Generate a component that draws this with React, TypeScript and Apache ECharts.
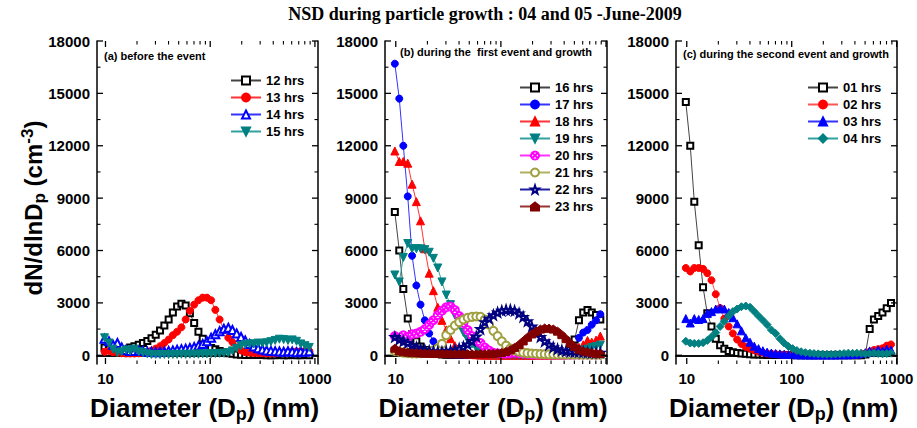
import React, { useEffect, useRef } from 'react';
import * as echarts from 'echarts';

// particle diameter bins (nm)
const diameters = [9.8, 10.8, 11.8, 13.0, 14.3, 15.7, 17.2, 18.9, 20.8, 22.8,
  25.1, 27.5, 30.2, 33.2, 36.5, 40.1, 44.0, 48.3, 53.1, 58.3,
  64.0, 70.3, 77.2, 84.8, 93.1, 102, 112, 123, 135, 149,
  163, 179, 197, 216, 238, 261, 287, 315, 346, 380,
  417, 458, 503, 553, 607, 667, 732, 804, 883];

// (a) before the event
const h12 = [450, 380, 300, 250, 280, 330, 450, 520, 600, 700,
  820, 980, 1180, 1420, 1700, 2050, 2450, 2800, 2950, 2850,
  2400, 1850, 1350, 950, 650, 420, 350, 250, 180, 120,
  80, 50, 30, 20, 20, 10, 10, 10, 0, 0,
  0, 10, 0, 0, 10, 0, 0, 10, 0];
const h13 = [200, 250, 180, 150, 120, 100, 100, 100, 110, 130,
  180, 260, 380, 520, 700, 900, 1150, 1350, 1600, 2050,
  2550, 2900, 3150, 3300, 3300, 3150, 2600, 2050, 1450, 1000,
  750, 450, 280, 180, 150, 130, 120, 120, 110, 100,
  110, 130, 150, 180, 200, 220, 230, 240, 250];
const h14 = [950, 800, 600, 700, 450, 300, 250, 250, 280, 250,
  200, 200, 180, 200, 220, 250, 280, 320, 350, 380,
  420, 470, 550, 650, 800, 1000, 1200, 1380, 1520, 1580,
  1450, 1250, 1050, 850, 650, 500, 400, 330, 280, 250,
  230, 220, 200, 230, 210, 180, 220, 200, 230];
const h15 = [1000, 700, 350, 150, 200, 300, 250, 350, 200, 150,
  80, 50, 50, 40, 50, 40, 50, 50, 60, 50,
  60, 70, 60, 80, 80, 90, 100, 110, 120, 150,
  250, 400, 550, 620, 650, 650, 700, 680, 720, 780,
  850, 920, 900, 850, 880, 800, 650, 550, 450];

// (b) during the first event and growth
const h16 = [8200, 6000, 3800, 2100, 1200, 800, 500, 300, 200, 120,
  80, 50, 30, 30, 20, 20, 10, 10, 10, 10,
  0, 0, 0, 0, 0, 0, 0, 0, 0, 0,
  0, 0, 0, 10, 10, 10, 20, 20, 30, 50,
  100, 300, 900, 2000, 2450, 2600, 2450, 2300, 2050];
const h17 = [16700, 14700, 12000, 9100, 5700, 4000, 2900, 2000, 1250, 800,
  400, 180, 80, 50, 30, 20, 20, 10, 10, 10,
  0, 0, 0, 0, 0, 0, 0, 0, 0, 0,
  0, 0, 0, 0, 0, 10, 10, 20, 20, 30,
  50, 100, 300, 1000, 1300, 1450, 1750, 2000, 2350];
const h18 = [11700, 11100, 11100, 11000, 9800, 8800, 7700, 6100, 4700, 3700,
  2750, 2000, 1450, 950, 550, 300, 150, 80, 50, 30,
  20, 20, 10, 10, 10, 10, 10, 10, 10, 10,
  10, 10, 10, 10, 10, 10, 10, 10, 20, 20,
  50, 100, 200, 450, 600, 850, 750, 870, 1100];
const h19 = [4600, 4200, 5600, 6400, 6100, 6100, 6100, 6050, 5900, 5550,
  5000, 4200, 3450, 2900, 2300, 1750, 1300, 900, 650, 400,
  200, 100, 60, 40, 30, 20, 20, 10, 10, 10,
  10, 10, 10, 10, 10, 10, 10, 10, 20, 20,
  30, 50, 100, 200, 300, 350, 450, 500, 580];
const h20 = [1100, 1000, 1150, 1050, 1200, 1250, 1350, 1500, 1750, 2000,
  2300, 2550, 2750, 2800, 2600, 2250, 1850, 1450, 1100, 800,
  700, 450, 280, 150, 120, 100, 100, 120, 150, 120,
  100, 80, 60, 50, 50, 40, 40, 30, 30, 30,
  30, 30, 40, 40, 50, 40, 50, 40, 50];
const h21 = [250, 200, 150, 120, 100, 100, 120, 150, 200, 280,
  400, 650, 1150, 1450, 1700, 1900, 2050, 2150, 2200, 2220,
  2200, 2050, 1750, 1400, 1100, 800, 550, 380, 280, 200,
  150, 120, 100, 90, 70, 60, 50, 50, 40, 40,
  40, 40, 40, 30, 30, 30, 30, 30, 30];
const h22 = [1050, 900, 800, 700, 550, 450, 350, 300, 250, 220,
  200, 200, 220, 250, 300, 380, 480, 620, 820, 1080,
  1500, 1900, 2100, 2300, 2450, 2550, 2600, 2600, 2550, 2400,
  2200, 1950, 1650, 1350, 1050, 800, 600, 450, 350, 280,
  250, 220, 200, 200, 180, 170, 150, 150, 150];
const h23 = [400, 250, 200, 180, 150, 150, 130, 120, 110, 100,
  100, 100, 90, 90, 80, 80, 80, 80, 80, 80,
  90, 90, 100, 110, 130, 160, 220, 320, 450, 620,
  820, 1030, 1220, 1380, 1500, 1560, 1550, 1500, 1380, 1180,
  950, 700, 500, 350, 250, 200, 150, 120, 100];

// (c) during the second event and growth
const h01 = [14500, 12000, 8800, 6300, 3900, 2400, 1650, 950, 580, 380,
  250, 180, 130, 100, 80, 60, 50, 40, 30, 20,
  20, 20, 10, 10, 10, 10, 0, 0, 0, 0,
  0, 0, 0, 0, 0, 0, 0, 0, 0, 0,
  0, 0, 50, 1500, 2050, 2250, 2450, 2700, 3000];
const h02 = [5000, 4800, 5000, 5000, 4950, 4700, 4300, 3500, 2700, 2100,
  1650, 1250, 900, 650, 480, 380, 280, 200, 150, 100,
  80, 60, 40, 30, 30, 20, 20, 20, 20, 10,
  10, 10, 10, 10, 10, 10, 10, 10, 20, 20,
  30, 50, 100, 200, 300, 350, 400, 550, 620];
const h03 = [2100, 1850, 2100, 2050, 2100, 2400, 2500, 2650, 2700, 2650,
  2450, 2150, 1800, 1400, 1000, 750, 520, 380, 260, 180,
  130, 100, 80, 60, 50, 40, 30, 30, 20, 20,
  20, 20, 20, 20, 20, 20, 30, 30, 30, 40,
  60, 100, 150, 250, 200, 300, 250, 350, 300];
const h04 = [800, 700, 680, 680, 720, 850, 1050, 1300, 1650, 1950,
  2250, 2500, 2650, 2780, 2820, 2750, 2500, 2250, 2000, 1750,
  1450, 1250, 950, 700, 500, 380, 270, 200, 150, 120,
  100, 80, 70, 60, 60, 70, 80, 100, 120, 110,
  120, 100, 80, 100, 120, 100, 80, 100, 120];

const yTickLabels = [0, 3000, 6000, 9000, 12000, 15000, 18000];
const yMinorTicks = [1500, 4500, 7500, 10500, 13500, 16500];
const xTickLabels = [10, 100, 1000];
const xMinorTicks = [20, 30, 40, 50, 60, 70, 80, 90, 200, 300, 400, 500, 600, 700, 800, 900];

const FONT = 'Liberation Sans, Arial, Helvetica, sans-serif';
const MAJOR = 6;
const MINOR = 3.5;

type S = { name: string; values: number[]; color: string; line: string; symbol: string; size: number };

const panels: {
  left: number; width: number; xMin: number; xMax: number; label: string; labelX: number; labelY: number;
  legendLeft: number; legendTop: number; series: S[];
}[] = [
  {
    left: 97, width: 221, xMin: 8.3, xMax: 1070, label: '(a) before the event', labelX: 104, labelY: 57,
    legendLeft: 230, legendTop: 74,
    series: [
      { name: '12 hrs', values: h12, color: '#000000', line: '#444444', symbol: 'emptyRect', size: 6 },
      { name: '13 hrs', values: h13, color: '#ff0000', line: '#ff3333', symbol: 'circle', size: 7 },
      { name: '14 hrs', values: h14, color: '#0000ff', line: '#3333ff', symbol: 'emptyTriangle', size: 8 },
      { name: '15 hrs', values: h15, color: '#008080', line: '#33a0a0', symbol: 'path://M0,0L10,0L5,9Z', size: 8 },
    ],
  },
  {
    left: 385, width: 222, xMin: 7.9, xMax: 1022, label: '(b) during the  first event and growth', labelX: 400, labelY: 53,
    legendLeft: 519, legendTop: 81,
    series: [
      { name: '16 hrs', values: h16, color: '#000000', line: '#444444', symbol: 'emptyRect', size: 6 },
      { name: '17 hrs', values: h17, color: '#0000ff', line: '#3333ff', symbol: 'circle', size: 7 },
      { name: '18 hrs', values: h18, color: '#ff0000', line: '#ff3333', symbol: 'triangle', size: 8 },
      { name: '19 hrs', values: h19, color: '#008080', line: '#33a0a0', symbol: 'path://M0,0L10,0L5,9Z', size: 8 },
      { name: '20 hrs', values: h20, color: '#ff00ff', line: '#ff33ff', symbol: 'emptypath://M5,0A5,5,0,1,1,4.99,0ZM1.5,1.5L8.5,8.5M8.5,1.5L1.5,8.5', size: 8 },
      { name: '21 hrs', values: h21, color: '#a0a040', line: '#b0b060', symbol: 'emptyCircle', size: 8 },
      { name: '22 hrs', values: h22, color: '#000080', line: '#2020a0', symbol: 'emptypath://M5,0L6.2,3.6L10,3.6L7,5.9L8.1,9.5L5,7.3L1.9,9.5L3,5.9L0,3.6L3.8,3.6Z', size: 8 },
      { name: '23 hrs', values: h23, color: '#800000', line: '#993333', symbol: 'path://M5,0L10,4L10,10L0,10L0,4Z', size: 8 },
    ],
  },
  {
    left: 676, width: 221, xMin: 7.9, xMax: 1007, label: '(c) during the second event and growth', labelX: 683, labelY: 55,
    legendLeft: 807, legendTop: 81,
    series: [
      { name: '01 hrs', values: h01, color: '#000000', line: '#444444', symbol: 'emptyRect', size: 6 },
      { name: '02 hrs', values: h02, color: '#ff0000', line: '#ff5555', symbol: 'circle', size: 7 },
      { name: '03 hrs', values: h03, color: '#0000ff', line: '#3333ff', symbol: 'triangle', size: 8 },
      { name: '04 hrs', values: h04, color: '#008080', line: '#33a0a0', symbol: 'diamond', size: 8 },
    ],
  },
];

const GRID_TOP = 41;
const GRID_HEIGHT = 323;
const plain = (v: number) => String(v);

// tick marks drawn inside the frame on both opposite sides, positioned through the axis scales
function xTickRender(params: any, api: any) {
  const cs = params.coordSys;
  const x = api.coord([api.value(0), api.value(1)])[0];
  const len = api.value(2);
  const style = { stroke: '#000', lineWidth: len > 4 ? 1.3 : 1.1 };
  return {
    type: 'group',
    children: [
      { type: 'line', shape: { x1: x, y1: cs.y + cs.height, x2: x, y2: cs.y + cs.height - len }, style },
      { type: 'line', shape: { x1: x, y1: cs.y, x2: x, y2: cs.y + len }, style },
    ],
  };
}
function yTickRender(params: any, api: any) {
  const cs = params.coordSys;
  const y = api.coord([api.value(0), api.value(1)])[1];
  const len = api.value(2);
  const style = { stroke: '#000', lineWidth: len > 4 ? 1.3 : 1.1 };
  return {
    type: 'group',
    children: [
      { type: 'line', shape: { x1: cs.x, y1: y, x2: cs.x + len, y2: y }, style },
      { type: 'line', shape: { x1: cs.x + cs.width, y1: y, x2: cs.x + cs.width - len, y2: y }, style },
    ],
  };
}

function buildOption() {
  const grid: any[] = [];
  const xAxis: any[] = [];
  const yAxis: any[] = [];
  const series: any[] = [];
  const legend: any[] = [];
  const graphic: any[] = [];

  panels.forEach((p, g) => {
    grid.push({ left: p.left, top: GRID_TOP, width: p.width, height: GRID_HEIGHT, containLabel: false });
    const xBase = { type: 'log', logBase: 10, gridIndex: g, min: p.xMin, max: p.xMax, splitLine: { show: false }, axisTick: { show: false } };
    const line = { show: true, lineStyle: { color: '#000', width: 1.5 } };
    xAxis.push({ ...xBase, position: 'bottom', axisLine: line,
      axisLabel: { show: true, customValues: xTickLabels, formatter: plain, fontSize: 15, fontWeight: 'bold', fontFamily: FONT, color: '#000', margin: 7 } });
    xAxis.push({ ...xBase, position: 'top', axisLine: line, axisLabel: { show: false } });

    const yBase = { type: 'value', gridIndex: g, min: -500, max: 18000, splitLine: { show: false }, axisTick: { show: false } };
    yAxis.push({ ...yBase, position: 'left', axisLine: line,
      axisLabel: { show: true, customValues: yTickLabels, formatter: plain, fontSize: 15, fontWeight: 'bold', fontFamily: FONT, color: '#000', margin: 7 } });
    yAxis.push({ ...yBase, position: 'right', axisLine: line, axisLabel: { show: false } });

    p.series.forEach((s) => {
      series.push({
        type: 'line', name: s.name, xAxisIndex: g * 2, yAxisIndex: g * 2,
        data: diameters.map((d, i) => [d, s.values[i]]),
        symbol: s.symbol, symbolSize: s.size, showSymbol: true,
        itemStyle: { color: s.color, borderColor: s.color, borderWidth: 1 },
        lineStyle: { color: s.line, width: 1 },
        emphasis: { disabled: true },
      });
    });

    series.push({
      type: 'custom', xAxisIndex: g * 2, yAxisIndex: g * 2, silent: true, clip: false, z: 5,
      data: [...xTickLabels.map((v) => [v, 1000, MAJOR]), ...xMinorTicks.map((v) => [v, 1000, MINOR])],
      renderItem: xTickRender,
    });
    series.push({
      type: 'custom', xAxisIndex: g * 2, yAxisIndex: g * 2, silent: true, clip: false, z: 5,
      data: [...yTickLabels.map((v) => [100, v, MAJOR]), ...yMinorTicks.map((v) => [100, v, MINOR])],
      renderItem: yTickRender,
    });

    legend.push({
      data: p.series.map((s) => s.name), orient: 'vertical', left: p.legendLeft, top: p.legendTop,
      itemWidth: 30, itemHeight: 10, itemGap: 4, selectedMode: false, padding: 0,
      textStyle: { fontSize: 13, fontWeight: 'bold', fontFamily: FONT, color: '#000', lineHeight: 13 },
    });

    graphic.push({ type: 'text', left: p.labelX, top: p.labelY - 7,
      style: { text: p.label, font: `bold 11px ${FONT}`, fill: '#000' } });

    graphic.push({
      type: 'text', x: p.left + p.width / 2 - 3, y: 408,
      style: {
        text: '{a|Diameter (D}{s|p}{a|) (nm)}', align: 'center', verticalAlign: 'middle',
        rich: {
          a: { fontSize: 26, fontWeight: 'bold', fontFamily: FONT, fill: '#000' },
          s: { fontSize: 18, fontWeight: 'bold', fontFamily: FONT, fill: '#000', padding: [12, 0, 0, 0] },
        },
      },
    });
  });

  graphic.push({
    type: 'text', x: 485, y: 14,
    style: { text: 'NSD during particle growth : 04 and 05 -June-2009', align: 'center', verticalAlign: 'middle',
      font: 'bold 18px Liberation Serif, Times New Roman, serif', fill: '#000' },
  });
  graphic.push({
    type: 'text', x: 33, y: 208, rotation: Math.PI / 2,
    style: {
      text: '{a|dN/dlnD}{s|p}{a| (cm}{u|-3}{a|)}', align: 'center', verticalAlign: 'middle',
      rich: {
        a: { fontSize: 24, fontWeight: 'bold', fontFamily: FONT, fill: '#000' },
        s: { fontSize: 17, fontWeight: 'bold', fontFamily: FONT, fill: '#000', padding: [12, 0, 0, 0] },
        u: { fontSize: 17, fontWeight: 'bold', fontFamily: FONT, fill: '#000', padding: [0, 0, 12, 0] },
      },
    },
  });

  return { animation: false, backgroundColor: '#fff', grid, xAxis, yAxis, series, legend, graphic };
}

export default function App() {
  const ref = useRef<HTMLDivElement>(null);
  useEffect(() => {
    document.body.style.margin = '0';
    if (!ref.current) return;
    const chart = echarts.init(ref.current, null, { renderer: 'svg' });
    chart.setOption(buildOption() as any);
    return () => chart.dispose();
  }, []);
  return <div ref={ref} style={{ width: 917, height: 428 }} />;
}
